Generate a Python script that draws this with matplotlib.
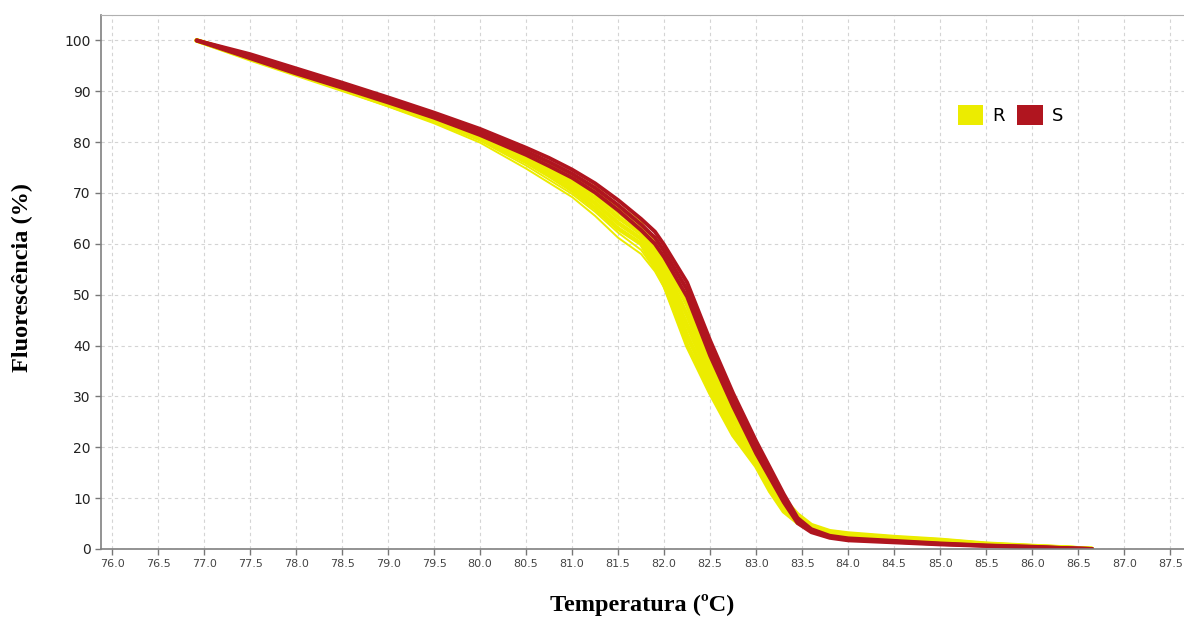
import matplotlib.pyplot as plt
from matplotlib.patches import Patch

# temperaturas (ºC) comuns a todas as curvas
temperatura = [76.92, 77.5, 78.0, 78.5, 79.0, 79.5, 80.0, 80.5, 80.75, 81.0, 81.25, 81.5,
               81.75, 81.9, 82.0, 82.25, 82.5, 82.75, 83.0, 83.15, 83.3, 83.45, 83.6, 83.8,
               84.0, 84.5, 85.0, 85.5, 86.0, 86.3, 86.65]

# replicas R (amarelo)
R1 = [100, 96.9, 94.1, 91.3, 88.3, 85.2, 81.9, 77.9, 75.8, 73.5, 71.0, 67.4, 64.0, 59.9,
      56.6, 48.0, 36.9, 28.0, 20.7, 15.0, 9.8, 6.8, 4.7, 3.5, 3.05, 2.35, 1.8, 1.05, 0.6, 0.35, 0]
R2 = [100, 96.75, 93.9, 91.05, 88.05, 84.95, 81.6, 77.45, 75.2, 72.75, 70.0, 66.3, 63.0, 58.8,
      55.45, 46.0, 35.35, 26.6, 19.6, 14.1, 9.2, 6.4, 4.45, 3.35, 2.9, 2.2, 1.7, 0.97, 0.55, 0.32, 0]
R3 = [100, 96.6, 93.7, 90.8, 87.8, 84.7, 81.3, 77.0, 74.6, 72.0, 69.0, 65.2, 62.0, 57.7,
      54.3, 44.0, 33.8, 25.2, 18.5, 13.2, 8.6, 6.0, 4.2, 3.2, 2.75, 2.1, 1.6, 0.9, 0.5, 0.3, 0]
R4 = [100, 96.45, 93.5, 90.55, 87.55, 84.45, 81.0, 76.55, 74.0, 71.25, 68.0, 64.1, 61.0, 56.6,
      53.15, 42.0, 32.25, 23.8, 17.4, 12.3, 8.0, 5.6, 3.95, 3.05, 2.6, 2.0, 1.5, 0.83, 0.45, 0.28, 0]
R5 = [100, 96.3, 93.3, 90.3, 87.3, 84.2, 80.7, 76.1, 73.4, 70.5, 67.0, 63.0, 60.0, 55.5,
      52.0, 40.0, 30.7, 22.4, 16.3, 11.4, 7.4, 5.2, 3.7, 2.9, 2.45, 1.85, 1.4, 0.75, 0.4, 0.25, 0]
R6 = [100, 96.3, 93.3, 90.3, 87.2, 84.0, 80.3, 75.4, 72.6, 69.8, 66.3, 62.2, 58.8, 55.0,
      51.8, 40.5, 31.0, 22.8, 16.6, 11.6, 7.6, 5.3, 3.8, 2.95, 2.5, 1.9, 1.45, 0.8, 0.45, 0.25, 0]
R7 = [100, 96.2, 93.2, 90.2, 87.0, 83.7, 79.9, 74.8, 72.0, 69.2, 65.5, 61.2, 58.0, 54.6,
      51.4, 40.3, 30.9, 22.7, 16.5, 11.5, 7.5, 5.3, 3.8, 2.95, 2.5, 1.9, 1.45, 0.8, 0.45, 0.25, 0]

# replicas S (vermelho)
S1 = [100, 97.3, 94.5, 91.7, 88.8, 85.8, 82.6, 78.9, 76.9, 74.6, 71.9, 68.6, 64.9, 62.4,
      59.8, 52.4, 41.0, 30.6, 21.2, 16.0, 10.8, 6.1, 3.9, 2.6, 2.1, 1.6, 1.1, 0.7, 0.45, 0.22, 0]
S2 = [100, 96.9, 94.0, 91.2, 88.3, 85.3, 82.0, 78.2, 76.1, 73.8, 71.0, 67.6, 63.8, 61.2,
      58.6, 51.0, 39.5, 29.3, 20.0, 15.0, 10.0, 5.6, 3.6, 2.4, 1.9, 1.45, 1.0, 0.65, 0.4, 0.2, 0]
S3 = [100, 96.5, 93.5, 90.7, 87.8, 84.8, 81.4, 77.5, 75.3, 73.0, 70.1, 66.6, 62.7, 60.0,
      57.4, 49.6, 38.0, 28.0, 18.8, 14.0, 9.2, 5.1, 3.3, 2.2, 1.7, 1.3, 0.9, 0.6, 0.35, 0.18, 0]

x_ticks = [76.0 + 0.5 * i for i in range(24)]
y_ticks = [0, 10, 20, 30, 40, 50, 60, 70, 80, 90, 100]

amarelo = '#ecec00'
vermelho = '#b0151f'

fig = plt.figure(figsize=(11.84, 6.19), dpi=100)
ax = fig.add_axes([101 / 1184, 1 - 549 / 619, 1 - 101 / 1184, (549 - 15) / 619])

for r in [R1, R2, R3, R4, R5]:
    ax.plot(temperatura, r, color=amarelo, lw=3.2, solid_capstyle='round', solid_joinstyle='round')
for r in [R6, R7]:
    ax.plot(temperatura, r, color=amarelo, lw=1.4, solid_joinstyle='round')
for s in [S1, S2, S3]:
    ax.plot(temperatura, s, color=vermelho, lw=2.8, solid_capstyle='round', solid_joinstyle='round')

ax.set_xlim(75.88, 87.65)
ax.set_ylim(0, 105)
ax.set_xticks(x_ticks)
ax.set_xticklabels([f'{t:.1f}' for t in x_ticks], fontsize=8, color='#444444')
ax.set_yticks(y_ticks)
ax.set_yticklabels([str(v) for v in y_ticks], fontsize=10, color='#222222')
ax.tick_params(axis='both', direction='out', length=4, color='#777777', width=1)
ax.grid(True, color='#d4d4d4', linestyle=(0, (3, 3)), linewidth=0.8)
ax.set_axisbelow(True)

for lado in ['left', 'bottom']:
    ax.spines[lado].set_color('#808080')
    ax.spines[lado].set_linewidth(1.2)
ax.spines['top'].set_color('#b0b0b0')
ax.spines['right'].set_visible(False)

ax.set_xlabel('Temperatura (ºC)', family='Liberation Serif', fontweight='bold',
              fontsize=17.5, labelpad=18)
ax.set_ylabel('Fluorescência (%)', family='Liberation Serif', fontweight='bold',
              fontsize=17.5)
ax.yaxis.set_label_coords(-(101 - 33) / 1083, (549 - 278) / 534)

handles = [Patch(facecolor=amarelo, edgecolor='none', label='R'),
           Patch(facecolor=vermelho, edgecolor='none', label='S')]
fig.legend(handles=handles, loc='center left', bbox_to_anchor=(958 / 1184, 1 - 115 / 619),
           ncol=2, frameon=False, fontsize=13, handlelength=1.4, handleheight=1.4,
           handletextpad=0.5, columnspacing=0.7, borderpad=0, borderaxespad=0)

fig.savefig('out.png', dpi=100)
